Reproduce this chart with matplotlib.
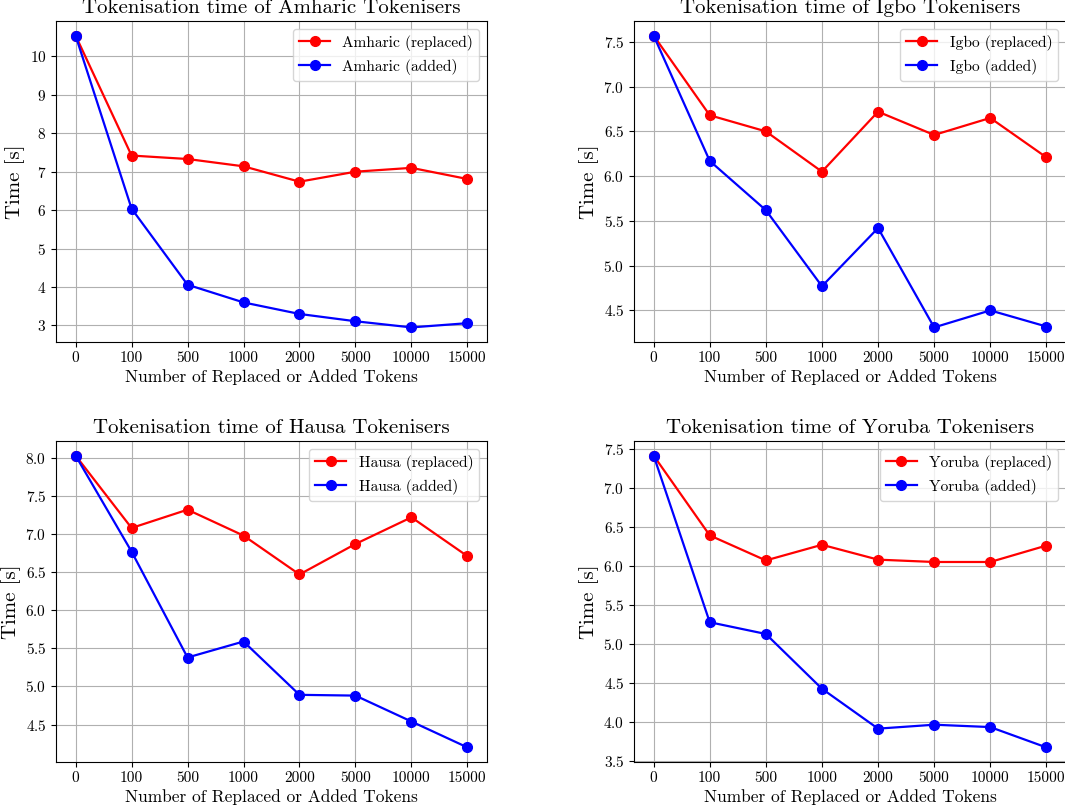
import matplotlib
matplotlib.use("Agg")
import matplotlib.pyplot as plt

plt.rcParams["font.family"] = "serif"
plt.rcParams["font.serif"] = ["cmr10"]
plt.rcParams["mathtext.fontset"] = "cm"
plt.rcParams["axes.formatter.use_mathtext"] = True

token_counts = ["0", "100", "500", "1000", "2000", "5000", "10000", "15000"]

amharic_replaced = [10.54, 7.42, 7.33, 7.14, 6.74, 7.00, 7.10, 6.81]
amharic_added = [10.54, 6.04, 4.06, 3.60, 3.30, 3.11, 2.95, 3.06]

igbo_replaced = [7.57, 6.68, 6.50, 6.05, 6.72, 6.46, 6.65, 6.21]
igbo_added = [7.57, 6.17, 5.62, 4.77, 5.42, 4.31, 4.50, 4.32]

hausa_replaced = [8.03, 7.08, 7.32, 6.98, 6.47, 6.87, 7.22, 6.71]
hausa_added = [8.03, 6.77, 5.38, 5.59, 4.89, 4.88, 4.54, 4.20]

yoruba_replaced = [7.41, 6.39, 6.07, 6.27, 6.08, 6.05, 6.05, 6.26]
yoruba_added = [7.41, 5.28, 5.13, 4.43, 3.92, 3.97, 3.94, 3.68]

W, H = 1065, 810
fig = plt.figure(figsize=(W / 100, H / 100), dpi=100)


def px_axes(left, top, right, bottom):
    return fig.add_axes([left / W, 1 - bottom / H, (right - left) / W, (bottom - top) / H])


panels = [
    ("Amharic", amharic_replaced, amharic_added, (56, 21, 487, 342)),
    ("Igbo", igbo_replaced, igbo_added, (634, 21, 1066, 342)),
    ("Hausa", hausa_replaced, hausa_added, (56, 441, 487, 762)),
    ("Yoruba", yoruba_replaced, yoruba_added, (634, 441, 1066, 762)),
]

x = list(range(len(token_counts)))
for lang, replaced, added, box in panels:
    ax = px_axes(*box)
    ax.plot(x, replaced, "-o", color="red", lw=1.6, ms=7, label=f"{lang} (replaced)")
    ax.plot(x, added, "-o", color="blue", lw=1.6, ms=7, label=f"{lang} (added)")
    ax.set_xticks(x)
    ax.set_xticklabels(token_counts)
    ax.tick_params(labelsize=11)
    ax.grid(True)
    ax.set_title(f"Tokenisation time of {lang} Tokenisers", fontsize=15)
    ax.set_xlabel("Number of Replaced or Added Tokens", fontsize=12.5, labelpad=3)
    ax.set_ylabel("Time [s]", fontsize=15, labelpad=3)
    ax.legend(loc="upper right", fontsize=11.1)

fig.savefig("out.png", dpi=100)
